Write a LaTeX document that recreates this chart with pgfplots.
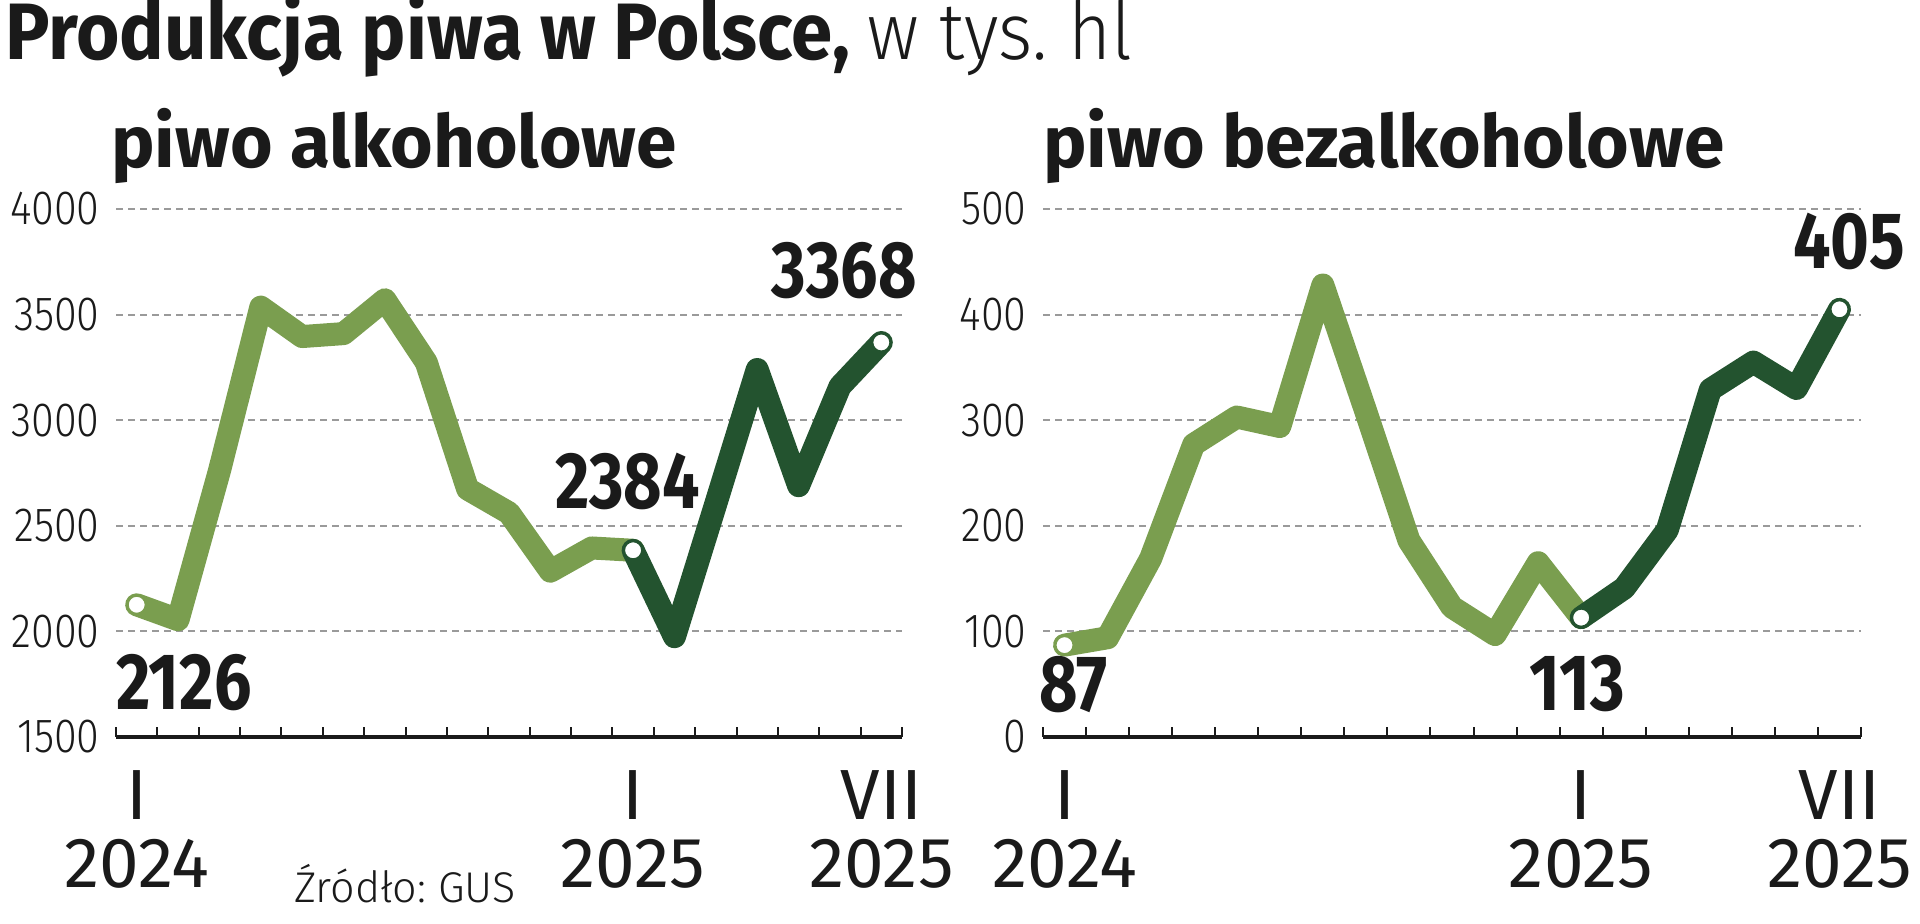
\documentclass[border=0pt]{standalone}
\usepackage{fontspec}
\setmainfont{Fira Sans}
\newfontfamily\lightfont{Fira Sans Light}
\newfontfamily\lightcond{Fira Sans Light}[FakeStretch=0.86]
\newfontfamily\lighttitle{Fira Sans Light}[FakeStretch=0.92]
\newfontfamily\condfont{Fira Sans}[FakeStretch=0.83]
\newfontfamily\titlefont{Fira Sans}[FakeStretch=0.93]
\usepackage{pgfplots}
\pgfplotsset{compat=1.18}
\definecolor{lightgreen}{HTML}{7A9E4F}
\definecolor{darkgreen}{HTML}{23532F}
\definecolor{ink}{HTML}{1A1A1A}
\definecolor{gridgray}{HTML}{9A9A9A}
\frenchspacing

% common look of both panels
\pgfplotsset{
  beerpanel/.style={
    scale only axis,
    height=264pt,
    xmin=-0.5, xmax=18.5,
    axis lines*=left,
    y axis line style={draw=none},
    x axis line style={line width=2pt, ink},
    xtick={0,12,18},
    xticklabels={{I\\2024},{I\\2025},{VII\\2025}},
    major x tick style={draw=none},
    minor xtick={-0.5,0.5,...,18.5},
    minor tick length=5pt,
    tick align=inside,
    minor x tick style={line width=1pt, ink},
    ymajorgrids,
    grid style={gridgray, line width=1pt, dash pattern=on 3.5pt off 2.5pt},
    ytick style={draw=none},
    yticklabel style={font=\lightcond\fontsize{24}{24}\selectfont, text=ink,
      anchor=east, inner sep=0pt, xshift=-8pt},
    xticklabel style={font=\fontsize{35.5}{34}\selectfont, text=ink, align=center,
      anchor=north, inner sep=0pt, yshift=-16.5pt},
    /pgf/number format/assume math mode=true,
    /pgf/number format/1000 sep={},
    clip=false,
    every axis plot/.append style={line join=round, line cap=round},
  },
}
\tikzset{
  valuelabel/.style={anchor=base, text=ink, inner sep=0pt,
    font=\condfont\bfseries\fontsize{40}{40}\selectfont},
}

\begin{document}
\begin{tikzpicture}
\path[use as bounding box] (0,0) rectangle (960pt,462pt);

\node[anchor=base west, inner sep=0pt, text=ink, font=\fontsize{40}{40}\selectfont]
  at (2.5pt,432pt) {\titlefont\bfseries Produkcja piwa w Polsce,\ \lighttitle\mdseries w tys. hl};

\node[anchor=base west, inner sep=0pt, text=ink, font=\bfseries\fontsize{36.5}{36}\selectfont]
  at (55.5pt,378pt) {piwo alkoholowe};
\node[anchor=base west, inner sep=0pt, text=ink, font=\bfseries\fontsize{36.5}{36}\selectfont]
  at (521.5pt,378pt) {piwo bezalkoholowe};

\node[anchor=base west, inner sep=0pt, text=ink, font=\lightfont\fontsize{21.5}{22}\selectfont]
  at (147pt,10.5pt) {Źródło: GUS};

% piwo alkoholowe
\begin{axis}[beerpanel,
  at={(58pt,93.5pt)}, anchor=south west,
  width=393pt,
  ymin=1500, ymax=4000,
  ytick={1500,2000,2500,3000,3500,4000},
]
\addplot[lightgreen, line width=11.5pt] coordinates {
  (0,2126) (1,2055) (2,2760) (3,3535) (4,3396) (5,3410) (6,3570)
  (7,3274) (8,2674) (9,2561) (10,2285) (11,2395) (12,2384)
};
\addplot[darkgreen, line width=11.5pt] coordinates {
  (12,2384) (13,1975) (14,2605) (15,3240) (16,2690) (17,3160) (18,3368)
};
\addplot[only marks, mark=*, mark size=4.5pt,
  mark options={fill=white, draw=lightgreen, line width=1pt}] coordinates {(0,2126)};
\addplot[only marks, mark=*, mark size=4.5pt,
  mark options={fill=white, draw=darkgreen, line width=1pt}] coordinates {(12,2384) (18,3368)};
\node[valuelabel] at (axis cs:1.14,1628) {2126};
\node[valuelabel] at (axis cs:11.86,2580) {2384};
\node[valuelabel] at (axis cs:17.10,3583) {3368};
\end{axis}

% piwo bezalkoholowe
\begin{axis}[beerpanel,
  at={(521.5pt,93.5pt)}, anchor=south west,
  width=409pt,
  ymin=0, ymax=500,
  ytick={0,100,200,300,400,500},
]
\addplot[lightgreen, line width=11.5pt] coordinates {
  (0,87) (1,94) (2,169) (3,277) (4,303) (5,294) (6,428)
  (7,308) (8,186) (9,123) (10,97) (11,165) (12,113)
};
\addplot[darkgreen, line width=11.5pt] coordinates {
  (12,113) (13,141) (14,196) (15,329) (16,355) (17,330) (18,405)
};
\addplot[only marks, mark=*, mark size=4.5pt,
  mark options={fill=white, draw=lightgreen, line width=1pt}] coordinates {(0,87)};
\addplot[only marks, mark=*, mark size=4.5pt,
  mark options={fill=white, draw=darkgreen, line width=1pt}] coordinates {(12,113) (18,405)};
\node[valuelabel] at (axis cs:0.21,23.7) {87};
\node[valuelabel] at (axis cs:11.91,25.5) {113};
\node[valuelabel] at (axis cs:18.23,443.9) {405};
\end{axis}
\end{tikzpicture}
\end{document}
